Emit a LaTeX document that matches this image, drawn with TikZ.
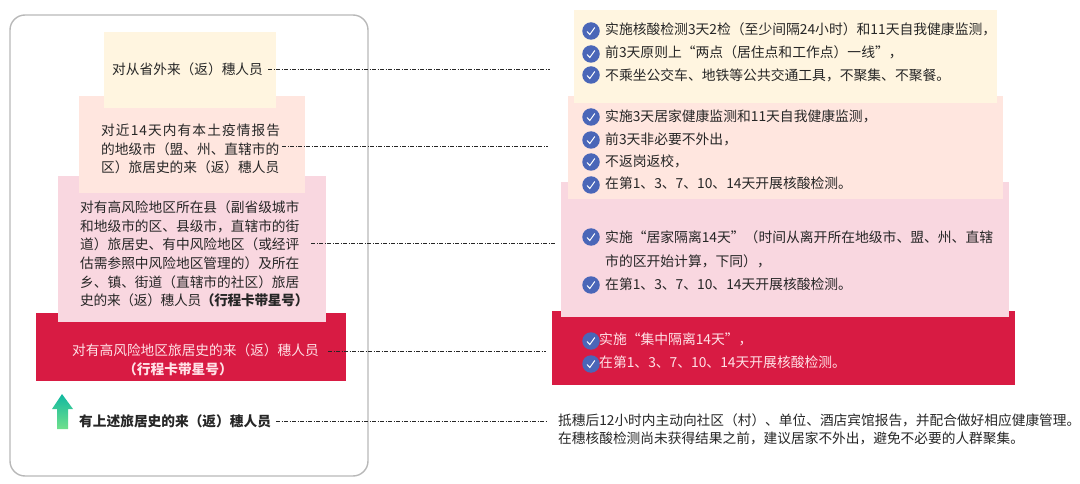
\documentclass[tikz,border=0pt]{standalone}
\usepackage{fontspec}
\setmainfont{Noto Sans CJK SC}
\usepackage{xcolor}
\definecolor{frameGray}{RGB}{184,184,184}
\definecolor{stepYellow}{RGB}{255,245,224}
\definecolor{stepPeach}{RGB}{255,230,223}
\definecolor{stepPink}{RGB}{249,215,224}
\definecolor{stepRed}{RGB}{216,27,67}
\definecolor{textDark}{RGB}{38,38,38}
\definecolor{textLight}{RGB}{255,225,230}
\definecolor{tickBlue}{RGB}{74,102,184}
\definecolor{arrowTop}{RGB}{16,184,160}
\definecolor{arrowBottom}{RGB}{112,224,140}
\newcommand{\spreadline}[2]{{\addfontfeature{LetterSpace=#1}#2}}
\tikzset{
  txt/.style={inner sep=0pt,text=textDark,font=\fontsize{13.7}{18.6}\selectfont,align=left},
  line/.style={txt,anchor=west},
  rline/.style={line,font=\fontsize{13.8}{18.6}\selectfont},
  leader/.style={line width=0.6pt,textDark,dash pattern=on 4pt off 1.5pt on 1pt off 1.5pt},
  tick/.style={circle,fill=tickBlue,minimum size=17.5pt,inner sep=0pt},
}
\begin{document}
\begin{tikzpicture}[x=1pt,y=-1pt]
    \useasboundingbox (0,0) rectangle (1080,484);
    % frame
    \draw[frameGray,line width=1.4pt,rounded corners=15pt] (10,15) rectangle (368,476);

    % left steps
    \fill[stepRed] (36,313) rectangle (346,381);
    \fill[stepPink] (58,176) rectangle (326,322);
    \fill[stepPeach] (79,96) rectangle (305,193);
    \fill[stepYellow] (104,32) rectangle (276,108);

    % right steps
    \fill[stepRed] (552,311) rectangle (1015,385);
    \fill[stepPink] (561,182) rectangle (1009,317);
    \fill[stepPeach] (568,96) rectangle (1003,199);
    \fill[stepYellow] (574,10) rectangle (997,103);

    % left texts
    \node[line] (outerProv) at (112,69) {对从省外来（返）穗人员};
    \node[line] (localCase) at (101,149) {\spreadline{7.9}{对近14天内有本土疫情报告}\\的地级市（盟、州、直辖市的\\区）旅居史的来（返）穗人员};
    \node[line] (midRisk) at (80,254) {对有高风险地区所在县（副省级城市\\和地级市的区、县级市，直辖市的街\\道）旅居史、有中风险地区（或经评\\估需参照中风险地区管理的）及所在\\乡、镇、街道（直辖市的社区）旅居\\\spreadline{-2.1}{史的来（返）穗人员\textbf{（行程卡带星号）}}};
    \node[line,text=textLight] (highRisk) at (72,350) {对有高风险地区旅居史的来（返）穗人员};
    \node[line,text=textLight] (highRiskTag) at (123,369) {\textbf{（行程卡带星号）}};
    \node[line] (allBack) at (79,421) {\textbf{有上述旅居史的来（返）穗人员}};

    % arrow
    \shade[top color=arrowTop,bottom color=arrowBottom] (62,394) -- (73,409) -- (68,409) -- (68,429)
        -- (57,429) -- (57,409) -- (52,409) -- cycle;

    % ticks
    \foreach \name/\x/\y in {a/591/31,b/591/54,c/591/75,d/591/117,e/591/140,f/591/162,g/591/185,h/591/237,i/591/285,j/591/341,k/591/364}{
        \node[tick] (tick\name) at (\x,\y) {};
        \draw[white,line width=1pt] ([shift={(-4,0.5)}]tick\name.center) -- ++(2.8,3) -- ++(5,-7);
    }

    % right texts
    \node[rline] (yellowA) at (605,29) {实施核酸检测3天2检（至少间隔24小时）和11天自我健康监测，};
    \node[rline] (yellowB) at (605,52) {前3天原则上“两点（居住点和工作点）一线”，};
    \node[rline] (yellowC) at (605,75) {不乘坐公交车、地铁等公共交通工具，不聚集、不聚餐。};
    \node[rline] (peachA) at (605,116) {实施3天居家健康监测和11天自我健康监测，};
    \node[rline] (peachB) at (605,139) {前3天非必要不外出，};
    \node[rline] (peachC) at (605,161) {不返岗返校，};
    \node[rline] (peachD) at (605,183) {在第1、3、7、10、14天开展核酸检测。};
    \node[rline] (pinkA) at (605,237) {实施“居家隔离14天”（时间从离开所在地级市、盟、州、直辖};
    \node[rline] (pinkB) at (605,261) {市的区开始计算，下同），};
    \node[rline] (pinkC) at (605,284) {在第1、3、7、10、14天开展核酸检测。};
    \node[rline,text=textLight] (redA) at (599,339) {实施“集中隔离14天”，};
    \node[rline,text=textLight] (redB) at (599,362) {在第1、3、7、10、14天开展核酸检测。};
    \node[line] (noteA) at (558,420) {抵穗后12小时内主动向社区（村）、单位、酒店宾馆报告，并配合做好相应健康管理。};
    \node[line] (noteB) at (558,438) {在穗核酸检测尚未获得结果之前，建议居家不外出，避免不必要的人群聚集。};

    % connectors
    \coordinate (endA) at (550,69);
    \coordinate (endB) at (548,146);
    \coordinate (endC) at (556,243);
    \coordinate (endD) at (546,351);
    \coordinate (endE) at (548,421);
    \draw[leader,shorten <=5pt] (outerProv.east) -- (endA);
    \draw[leader,shorten <=2pt] (localCase.east |- endB) -- (endB);
    \draw[leader,shorten <=3pt] (midRisk.east |- endC) -- (endC);
    \draw[leader,shorten <=9pt] (highRisk.east |- endD) -- (endD);
    \draw[leader,shorten <=5pt] (allBack.east) -- (endE);
\end{tikzpicture}
\end{document}
